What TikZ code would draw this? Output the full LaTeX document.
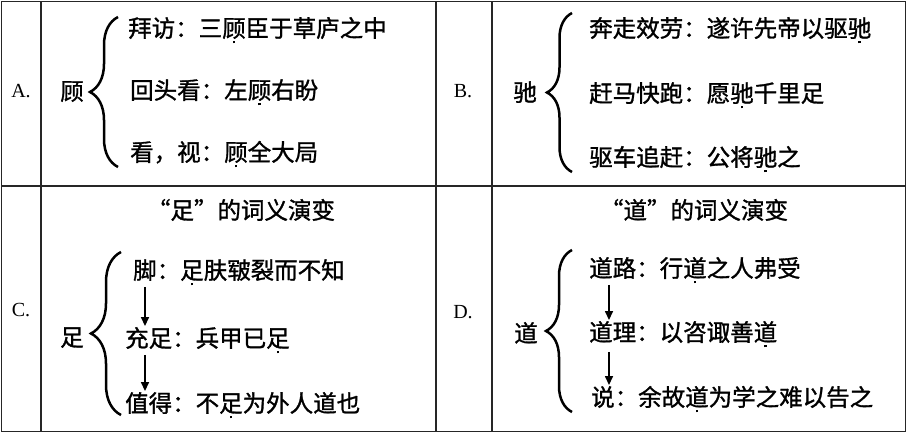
\documentclass[tikz,border=0pt]{standalone}
\usepackage{fontspec}
\setmainfont{Liberation Serif}
\newfontfamily\cjk[FakeBold=1.2]{Noto Sans CJK SC}
\usetikzlibrary{decorations.pathreplacing,arrows.meta,calc}
\newcommand\zd[1]{\setbox0\hbox{#1}\rlap{\hbox to\wd0{\hss\rule[-0.27em]{2.6pt}{2.6pt}\hss}}\box0}
\begin{document}
\begin{tikzpicture}[x=1pt,y=-1pt,
  grid/.style={line width=1.4pt, draw=black!85},
  zh/.style={font=\cjk\fontsize{23.5}{28}\selectfont, inner sep=0pt, text height=20.7pt, text depth=2.8pt, anchor=west},
  hw/.style={zh, anchor=center},
  lab/.style={font=\fontsize{20}{23}\selectfont, inner sep=0pt},
  brc/.style={decorate, decoration={brace, amplitude=#1}, line width=2.5pt},
  arr/.style={-{Triangle[length=9pt,width=8pt]}, line width=1.5pt}]
\useasboundingbox (0,0) rectangle (908,433);
\fill[white] (0,0) rectangle (908,433);
% grid
\draw[grid] (1.5,1.5) rectangle (905.5,431.5);
\draw[grid] (41,1.5) -- (41,431.5);
\draw[grid] (436,1.5) -- (436,431.5);
\draw[grid] (492,1.5) -- (492,431.5);
\draw[grid] (1.5,186) -- (905.5,186);
% labels
\node[lab] (la) at (21,91) {A.};
\node[lab] (lb) at (463,91) {B.};
\node[lab] (lc) at (21,310) {C.};
\node[lab] (ld) at (463,312) {D.};
% A
\node[hw] (a0) at (72,91) {顾};
\draw[brc=28pt] (118,167) -- (118,17);
\node[zh] (a1) at (128,28) {拜访：三\zd{顾}臣于草庐之中};
\node[zh] (a2) at (130,90) {回头看：左\zd{顾}右盼};
\node[zh] (a3) at (130,152) {看，视：\zd{顾}全大局};
% B
\node[hw] (b0) at (525,92) {驰};
\draw[brc=25pt] (572,172) -- (572,13);
\node[zh] (b1) at (589,28) {奔走效劳：遂许先帝以驱\zd{驰}};
\node[zh] (b2) at (589,93) {赶马快跑：愿\zd{驰}千里足};
\node[zh] (b3) at (589,157) {驱车追赶：公将\zd{驰}之};
% C
\node[hw] (ct) at (241,210) {“足”的词义演变};
\node[hw] (c0) at (72,337) {足};
\draw[brc=30pt] (121,415) -- (121,252);
\node[zh] (c1) at (133,270) {脚：\zd{足}肤皲裂而不知};
\node[zh] (c2) at (125,338) {充足：兵甲已\zd{足}};
\node[zh] (c3) at (125,403) {值得：不\zd{足}为外人道也};
\coordinate (cax) at (145,0);
\draw[arr, shorten <=5pt] (c1.south -| cax) -- (c2.north -| cax);
\draw[arr, shorten <=5pt] (c2.south -| cax) -- (c3.north -| cax);
% D
\node[hw] (dt) at (694,210) {“道”的词义演变};
\node[hw] (d0) at (526,333) {道};
\draw[brc=26pt] (572,412) -- (572,250);
\node[zh] (d1) at (589,268) {道路：行\zd{道}之人弗受};
\node[zh] (d2) at (589,332) {道理：以咨诹善\zd{道}};
\node[zh] (d3) at (591,397) {说：余故\zd{道}为学之难以告之};
\coordinate (dax) at (609,0);
\draw[arr, shorten <=5pt] (d1.south -| dax) -- (d2.north -| dax);
\draw[arr, shorten <=8pt] (d2.south -| dax) -- (d3.north -| dax);
\end{tikzpicture}
\end{document}
